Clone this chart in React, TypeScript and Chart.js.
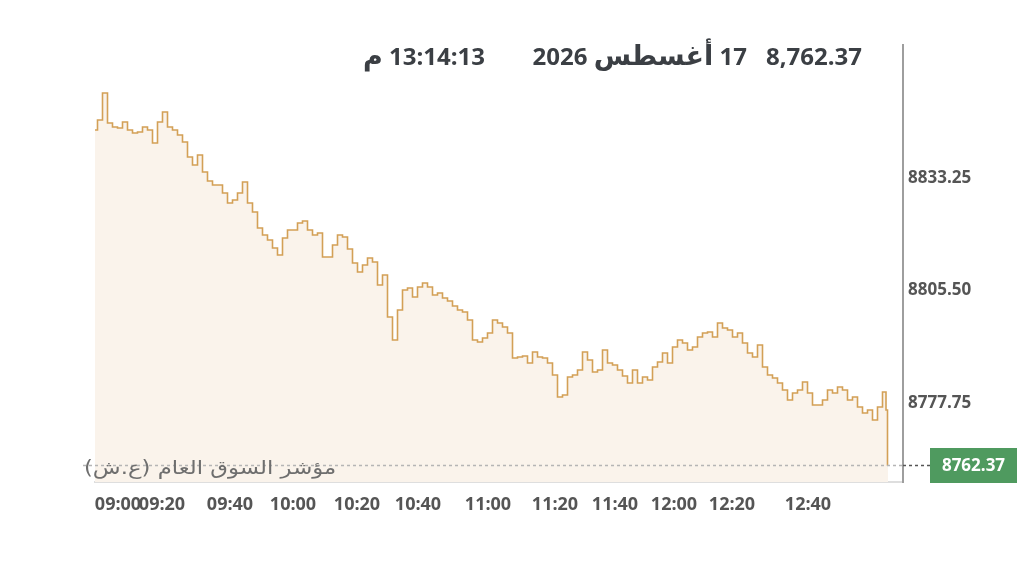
import React, { useEffect, useRef } from "react";
import { Chart, registerables } from "chart.js";

Chart.register(...registerables);

// Index values (one sample per step)
const values: number[] = [
  8845.1, 8847.57, 8854.24, 8846.83, 8845.85, 8845.6, 8847.08, 8845.1, 8844.36, 8844.61,
  8845.85, 8845.1, 8841.89, 8847.08, 8849.55, 8845.85, 8845.1, 8843.87, 8842.14, 8838.44,
  8836.46, 8838.93, 8834.73, 8832.51, 8831.52, 8831.52, 8829.55, 8827.08, 8827.82, 8829.55,
  8832.26, 8827.08, 8824.85, 8820.9, 8819.17, 8817.94, 8815.96, 8814.23, 8818.43, 8820.41,
  8820.41, 8822.14, 8822.63, 8820.41, 8819.17, 8819.67, 8813.74, 8813.74, 8816.7, 8819.17,
  8818.68, 8815.71, 8812.26, 8810.03, 8811.76, 8813.49, 8812.5, 8806.82, 8809.29, 8798.92,
  8793.24, 8800.65, 8805.59, 8806.08, 8803.86, 8806.33, 8807.32, 8806.33, 8804.35, 8804.85,
  8803.61, 8802.87, 8801.64, 8800.65, 8800.16, 8798.18, 8793.24, 8792.75, 8793.73, 8794.97,
  8798.18, 8797.44, 8796.45, 8794.97, 8788.8, 8789.04, 8789.29, 8787.56, 8790.28, 8789.04,
  8788.8, 8787.56, 8784.6, 8779.16, 8779.66, 8784.1, 8784.6, 8785.83, 8790.28, 8788.3,
  8785.34, 8785.83, 8790.77, 8787.56, 8787.07, 8785.83, 8784.35, 8782.62, 8785.83, 8782.62,
  8784.1, 8783.36, 8786.57, 8787.81, 8790.03, 8787.56, 8791.51, 8793.24, 8792.5, 8790.77,
  8791.51, 8793.98, 8794.97, 8795.22, 8793.98, 8797.44, 8796.2, 8795.71, 8793.98, 8794.97,
  8792.5, 8790.03, 8789.04, 8792.01, 8786.57, 8784.6, 8783.86, 8782.62, 8780.89, 8778.42,
  8780.15, 8780.89, 8782.87, 8780.15, 8777.19, 8777.19, 8778.42, 8780.89, 8780.15, 8781.63,
  8780.89, 8778.42, 8779.16, 8776.69, 8775.21, 8775.95, 8773.48, 8776.69, 8780.4,
];

// closing tail (sample positions and values)
const tailIndex: number[] = [158.4, 158.6];
const tailValues: number[] = [8775.95, 8762.37];

const lastValue = 8762.37;
const lastLabel = "8762.37";

const xTickIndex: number[] = [4.6, 13.4, 27, 39.6, 52.4, 64.6, 78.6, 92, 104, 115.8, 127.4, 142.6];
const xTickLabels: string[] = [
  "09:00", "09:20", "09:40", "10:00", "10:20", "10:40",
  "11:00", "11:20", "11:40", "12:00", "12:20", "12:40",
];
const yTicks: number[] = [8777.75, 8805.5, 8833.25];

const xMin = 0;
const xMax = 161.6;
const yMin = 8758.17;
const yMax = 8866.1;

const headerValue = "8,762.37";
const headerDay = "17";
const headerMonth = "أغسطس";
const headerYear = "2026";
const headerTime = "13:14:13";
const headerPm = "م";
const indexName = "مؤشر السوق العام (ع.ش)";

const lastPricePlugin = {
  id: "lastPrice",
  afterDatasetsDraw(chart: any) {
    const { ctx, chartArea, scales } = chart;
    const y = Math.round(scales.y.getPixelForValue(lastValue)) + 0.5;
    ctx.save();
    ctx.lineWidth = 1.5;
    ctx.setLineDash([3, 3]);
    ctx.strokeStyle = "#b5b5b5";
    ctx.beginPath();
    ctx.moveTo(chartArea.left - 12, y);
    ctx.lineTo(chartArea.right, y);
    ctx.stroke();
    ctx.strokeStyle = "#555";
    ctx.beginPath();
    ctx.moveTo(chartArea.right, y);
    ctx.lineTo(chartArea.right + 27, y);
    ctx.stroke();
    ctx.setLineDash([]);
    const bx = chartArea.right + 27;
    const bw = 87;
    const bh = 35;
    ctx.fillStyle = "#4f9a5f";
    ctx.fillRect(bx, y - bh / 2, bw, bh);
    ctx.fillStyle = "#ffffff";
    ctx.font = 'bold 17px "Open Sans", sans-serif';
    ctx.textAlign = "center";
    ctx.textBaseline = "middle";
    ctx.fillText(lastLabel, bx + bw / 2, y + 1);
    ctx.restore();
  },
};

export default function App() {
  const canvasRef = useRef<HTMLCanvasElement | null>(null);

  useEffect(() => {
    if (!canvasRef.current) return;
    const points = values.map((v, i) => ({ x: i, y: v }));
    tailIndex.forEach((ix, k) => points.push({ x: ix, y: tailValues[k] }));

    const chart = new Chart(canvasRef.current, {
      type: "line",
      data: {
        datasets: [
          {
            data: points,
            borderColor: "#d3a056",
            borderWidth: 1.6,
            backgroundColor: "#faf3eb",
            fill: "start",
            pointRadius: 0,
            stepped: "middle",
          },
        ],
      },
      options: {
        animation: false,
        responsive: false,
        maintainAspectRatio: false,
        layout: { padding: { left: 95, top: 45, right: 0, bottom: 0 } },
        plugins: { legend: { display: false }, tooltip: { enabled: false } },
        scales: {
          x: {
            type: "linear",
            min: xMin,
            max: xMax,
            grid: { display: false, drawTicks: false },
            border: { display: true, color: "#dedede", width: 2 },
            ticks: {
              autoSkip: false,
              maxRotation: 0,
              padding: 12,
              color: "#555",
              font: { family: '"Open Sans", sans-serif', size: 18, weight: "bold" },
              callback: (_v: any, i: number) => xTickLabels[i],
            },
            afterBuildTicks: (s: any) => {
              s.ticks = xTickIndex.map((v) => ({ value: v }));
            },
            afterFit: (s: any) => {
              s.height = 85;
            },
          },
          y: {
            type: "linear",
            position: "right",
            min: yMin,
            max: yMax,
            grid: { display: false, drawTicks: false },
            border: { display: true, color: "#9e9e9e", width: 2 },
            ticks: {
              padding: 5,
              color: "#555",
              font: { family: '"Open Sans", sans-serif', size: 17, weight: "bold" },
              callback: (v: any) => Number(v).toFixed(2),
            },
            afterBuildTicks: (s: any) => {
              s.ticks = yTicks.map((v) => ({ value: v }));
            },
            afterFit: (s: any) => {
              s.width = 121;
            },
          },
        },
      },
      plugins: [lastPricePlugin],
    });
    return () => chart.destroy();
  }, []);

  const headerStyle: React.CSSProperties = {
    position: "absolute",
    top: 38,
    fontFamily: '"Open Sans", "DejaVu Sans", sans-serif',
    fontWeight: "bold",
    fontSize: 24,
    color: "#3b3f44",
    whiteSpace: "nowrap",
    lineHeight: "36px",
  };
  const arabicBig: React.CSSProperties = {
    fontFamily: '"DejaVu Sans", sans-serif',
    fontSize: 27,
    fontWeight: "bold",
  };

  return (
    <div
      style={{
        position: "absolute",
        left: 0,
        top: 0,
        width: 1024,
        height: 567,
        background: "#fff",
        overflow: "hidden",
      }}
    >
      <canvas ref={canvasRef} width={1024} height={567} style={{ position: "absolute", left: 0, top: 0 }} />
      <div style={{ ...headerStyle, right: 1024 - 862 }}>{headerValue}</div>
      <div style={{ ...headerStyle, right: 1024 - 747, direction: "rtl" }}>
        {headerDay} <span style={arabicBig}>{headerMonth}</span> {headerYear}
      </div>
      <div style={{ ...headerStyle, right: 1024 - 485, direction: "rtl" }}>
        {headerTime} <span style={arabicBig}>{headerPm}</span>
      </div>
      <div
        style={{
          position: "absolute",
          right: 1024 - 336,
          top: 454,
          fontFamily: '"DejaVu Sans", sans-serif',
          fontSize: 19,
          color: "#6e6e6e",
          direction: "rtl",
          whiteSpace: "nowrap",
          lineHeight: "26px",
          transform: "scaleX(1.2)",
          transformOrigin: "right center",
        }}
      >
        {indexName}
      </div>
    </div>
  );
}
